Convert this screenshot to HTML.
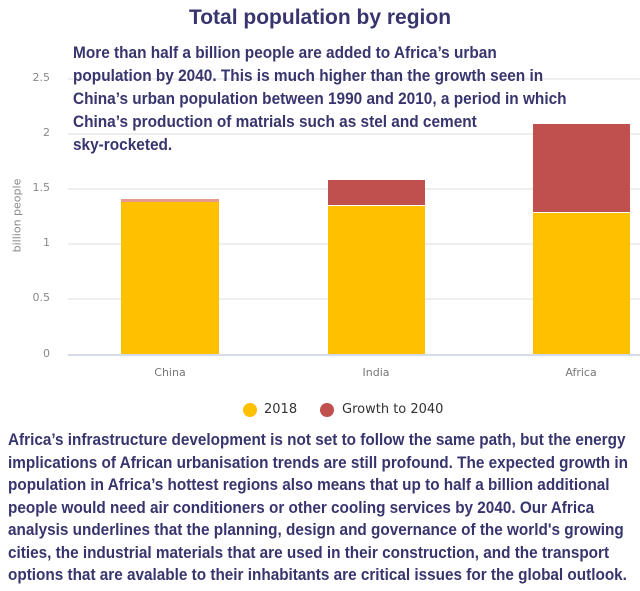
<!DOCTYPE html>
<html><head><meta charset="utf-8"><style>
body{margin:0;width:640px;height:591px;background:#fff;position:relative;overflow:hidden;font-family:"Liberation Sans",sans-serif;}
.t{position:absolute;color:#38356e;font-weight:bold;}
.g{position:absolute;left:68px;width:572px;height:2px;background:#eeeeee;}
.yl{position:absolute;left:20px;width:30px;text-align:right;font-family:"DejaVu Sans",sans-serif;font-size:11px;color:#888;}
.b{position:absolute;}
.xl{position:absolute;font-family:"DejaVu Sans",sans-serif;font-size:11px;color:#777;width:100px;text-align:center;top:366px;}
</style></head><body>
<div class="g" style="top:78px"></div>
<div class="g" style="top:133px"></div>
<div class="g" style="top:188px"></div>
<div class="g" style="top:243px"></div>
<div class="g" style="top:298px"></div>
<div class="g" style="top:354px;background:#d5dbe9"></div>
<div class="yl" style="top:71px">2.5</div>
<div class="yl" style="top:126px">2</div>
<div class="yl" style="top:181px">1.5</div>
<div class="yl" style="top:236px">1</div>
<div class="yl" style="top:291px">0.5</div>
<div class="yl" style="top:347px">0</div>
<div style="position:absolute;left:-28px;top:209px;width:90px;transform:rotate(-90deg);font-family:'DejaVu Sans',sans-serif;font-size:11px;color:#888;text-align:center">billion people</div>
<div class="b" style="left:121px;width:98px;top:199px;height:3px;background:#e89a8e"></div>
<div class="b" style="left:121px;width:98px;top:202px;height:152px;background:#ffc000"></div>
<div class="b" style="left:328px;width:97px;top:180px;height:25px;background:#c0504d"></div>
<div class="b" style="left:328px;width:97px;top:206px;height:148px;background:#ffc000"></div>
<div class="b" style="left:533px;width:97px;top:124px;height:88px;background:#c0504d"></div>
<div class="b" style="left:533px;width:97px;top:213px;height:141px;background:#ffc000"></div>
<div class="xl" style="left:120px">China</div>
<div class="xl" style="left:326px">India</div>
<div class="xl" style="left:531px">Africa</div>
<div style="position:absolute;left:243px;top:403px;width:14px;height:14px;border-radius:50%;background:#ffc000"></div>
<div style="position:absolute;left:264px;top:402px;font-family:'DejaVu Sans',sans-serif;font-size:13px;color:#333">2018</div>
<div style="position:absolute;left:320px;top:403px;width:14px;height:14px;border-radius:50%;background:#c0504d"></div>
<div style="position:absolute;left:342px;top:402px;font-family:'DejaVu Sans',sans-serif;font-size:13px;color:#333">Growth to 2040</div>
<div class="t" style="left:0;width:640px;text-align:center;top:6px;font-size:21px">Total population by region</div>
<div class="t" style="left:73px;top:41px;font-size:17px;line-height:23px;white-space:nowrap;transform:scaleX(0.905);transform-origin:0 0">More than half a billion people are added to Africa’s urban<br>population by 2040. This is much higher than the growth seen in<br>China’s urban population between 1990 and 2010, a period in which<br>China’s production of matrials such as stel and cement<br>sky-rocketed.</div>
<div class="t" style="left:8px;top:429px;font-size:17px;line-height:22.5px;white-space:nowrap;transform:scaleX(0.9);transform-origin:0 0">Africa’s infrastructure development is not set to follow the same path, but the energy<br>implications of African urbanisation trends are still profound. The expected growth in<br>population in Africa’s hottest regions also means that up to half a billion additional<br>people would need air conditioners or other cooling services by 2040. Our Africa<br>analysis underlines that the planning, design and governance of the world's growing<br>cities, the industrial materials that are used in their construction, and the transport<br>options that are avalable to their inhabitants are critical issues for the global outlook.</div>
</body></html>
